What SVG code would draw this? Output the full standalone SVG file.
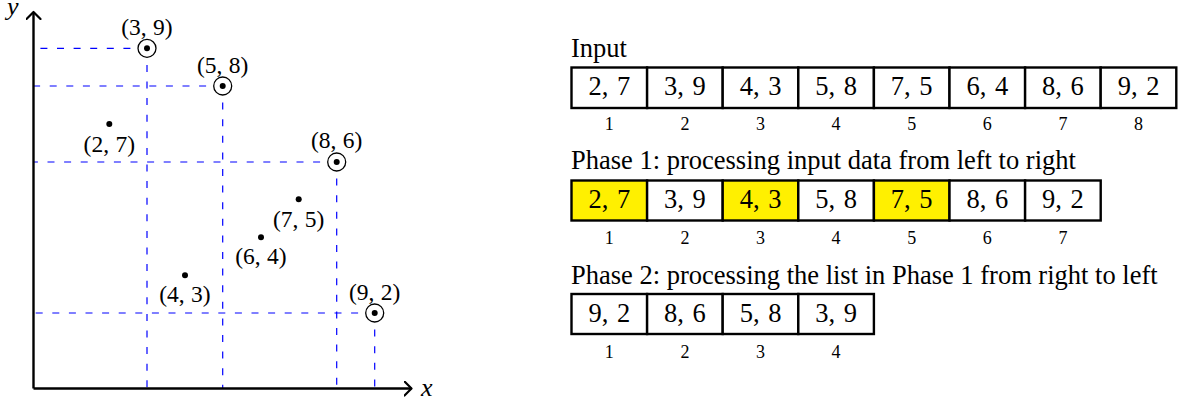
<svg xmlns="http://www.w3.org/2000/svg" width="1184" height="403" viewBox="0 0 1184 403">
  <style>
    .lbl { font-family: "Liberation Serif", "Times New Roman", serif; fill: #000; }
    .pt { font-size: 23.5px; text-anchor: middle; word-spacing: 0.5px; }
    .ax { font-size: 26px; font-style: italic; }
    .title { font-size: 26.5px; }
    .val { font-size: 26.5px; text-anchor: middle; word-spacing: 2px; }
    .idx { font-size: 18px; text-anchor: middle; }
    .cell { fill: #fff; stroke: #000; stroke-width: 2.4; }
    .hl { fill: #fff000; }
    .guide { fill: none; stroke: #0000ff; stroke-width: 1.2; stroke-dasharray: 7 9.6; }
    .axis { fill: none; stroke: #000; stroke-width: 2.4; }
    .ring { fill: #fff; stroke: #000; stroke-width: 1.3; }
    .dot { fill: #000; }
  </style>
  <defs>
    <marker id="arrow" viewBox="-8 -8 10 16" markerWidth="10" markerHeight="16" refX="0" refY="0" orient="auto" markerUnits="userSpaceOnUse">
      <path d="M -7 -7 L 0 0 L -7 7" fill="none" stroke="#000" stroke-width="2.2" stroke-linecap="round" stroke-linejoin="round"/>
    </marker>
  </defs>
  <rect width="1184" height="403" fill="#fff"/>

  <!-- staircase guides: from each maximal point to both axes -->
  <g id="connectors">
    <path class="guide" d="M 147 48.3 H 33.5 M 147 48.3 V 388.5"/>
    <path class="guide" d="M 222.7 86 H 33.5 M 222.7 86 V 388.5"/>
    <path class="guide" d="M 336.7 162 H 33.5 M 336.7 162 V 388.5"/>
    <path class="guide" d="M 374.7 313 H 33.5 M 374.7 313 V 388.5"/>
  </g>

  <!-- axes -->
  <g id="axes">
    <path class="axis" d="M 33.5 388.5 V 12" marker-end="url(#arrow)"/>
    <path class="axis" d="M 33.5 388.5 H 411.5" marker-end="url(#arrow)"/>
    <text class="lbl ax" x="7" y="14.5">y</text>
    <text class="lbl ax" x="421" y="395.5">x</text>
  </g>

  <!-- points; ringed ones are the maxima -->
  <g id="p-3-9">
    <circle class="ring" cx="147" cy="48.3" r="9"/>
    <circle class="dot" cx="147" cy="48.3" r="3"/>
    <text class="lbl pt" x="147" y="34.5">(3, 9)</text>
  </g>
  <g id="p-5-8">
    <circle class="ring" cx="222.7" cy="86" r="9"/>
    <circle class="dot" cx="222.7" cy="86" r="3"/>
    <text class="lbl pt" x="222.7" y="72.5">(5, 8)</text>
  </g>
  <g id="p-2-7">
    <circle class="dot" cx="109.3" cy="124" r="3"/>
    <text class="lbl pt" x="109.3" y="151.5">(2, 7)</text>
  </g>
  <g id="p-8-6">
    <circle class="ring" cx="336.7" cy="162" r="9"/>
    <circle class="dot" cx="336.7" cy="162" r="3"/>
    <text class="lbl pt" x="336.7" y="148">(8, 6)</text>
  </g>
  <g id="p-7-5">
    <circle class="dot" cx="298.7" cy="199.3" r="3"/>
    <text class="lbl pt" x="298.7" y="226.7">(7, 5)</text>
  </g>
  <g id="p-6-4">
    <circle class="dot" cx="261" cy="237.3" r="3"/>
    <text class="lbl pt" x="261" y="264.3">(6, 4)</text>
  </g>
  <g id="p-4-3">
    <circle class="dot" cx="185" cy="275.3" r="3"/>
    <text class="lbl pt" x="185" y="302.3">(4, 3)</text>
  </g>
  <g id="p-9-2">
    <circle class="ring" cx="374.7" cy="313" r="9"/>
    <circle class="dot" cx="374.7" cy="313" r="3"/>
    <text class="lbl pt" x="374.7" y="300">(9, 2)</text>
  </g>

  <!-- input list -->
  <g id="input">
    <text class="lbl title" x="571" y="56.7">Input</text>
    <rect class="cell" x="571.5" y="67.5" width="75.6" height="40.5"/>
    <rect class="cell" x="647.1" y="67.5" width="75.6" height="40.5"/>
    <rect class="cell" x="722.7" y="67.5" width="75.6" height="40.5"/>
    <rect class="cell" x="798.3" y="67.5" width="75.6" height="40.5"/>
    <rect class="cell" x="873.9" y="67.5" width="75.6" height="40.5"/>
    <rect class="cell" x="949.5" y="67.5" width="75.6" height="40.5"/>
    <rect class="cell" x="1025.1" y="67.5" width="75.6" height="40.5"/>
    <rect class="cell" x="1100.7" y="67.5" width="75.6" height="40.5"/>
    <text class="lbl val" x="609.3" y="95.3">2, 7</text>
    <text class="lbl val" x="684.9" y="95.3">3, 9</text>
    <text class="lbl val" x="760.5" y="95.3">4, 3</text>
    <text class="lbl val" x="836.1" y="95.3">5, 8</text>
    <text class="lbl val" x="911.7" y="95.3">7, 5</text>
    <text class="lbl val" x="987.3" y="95.3">6, 4</text>
    <text class="lbl val" x="1062.9" y="95.3">8, 6</text>
    <text class="lbl val" x="1138.5" y="95.3">9, 2</text>
    <text class="lbl idx" x="609.3" y="130">1</text>
    <text class="lbl idx" x="684.9" y="130">2</text>
    <text class="lbl idx" x="760.5" y="130">3</text>
    <text class="lbl idx" x="836.1" y="130">4</text>
    <text class="lbl idx" x="911.7" y="130">5</text>
    <text class="lbl idx" x="987.3" y="130">6</text>
    <text class="lbl idx" x="1062.9" y="130">7</text>
    <text class="lbl idx" x="1138.5" y="130">8</text>
  </g>

  <!-- phase 1 list -->
  <g id="phase1">
    <text class="lbl title" x="571" y="168.5">Phase 1: processing input data from left to right</text>
    <rect class="cell hl" x="571.5" y="180.5" width="75.6" height="40"/>
    <rect class="cell" x="647.1" y="180.5" width="75.6" height="40"/>
    <rect class="cell hl" x="722.7" y="180.5" width="75.6" height="40"/>
    <rect class="cell" x="798.3" y="180.5" width="75.6" height="40"/>
    <rect class="cell hl" x="873.9" y="180.5" width="75.6" height="40"/>
    <rect class="cell" x="949.5" y="180.5" width="75.6" height="40"/>
    <rect class="cell" x="1025.1" y="180.5" width="75.6" height="40"/>
    <text class="lbl val" x="609.3" y="208.3">2, 7</text>
    <text class="lbl val" x="684.9" y="208.3">3, 9</text>
    <text class="lbl val" x="760.5" y="208.3">4, 3</text>
    <text class="lbl val" x="836.1" y="208.3">5, 8</text>
    <text class="lbl val" x="911.7" y="208.3">7, 5</text>
    <text class="lbl val" x="987.3" y="208.3">8, 6</text>
    <text class="lbl val" x="1062.9" y="208.3">9, 2</text>
    <text class="lbl idx" x="609.3" y="243.5">1</text>
    <text class="lbl idx" x="684.9" y="243.5">2</text>
    <text class="lbl idx" x="760.5" y="243.5">3</text>
    <text class="lbl idx" x="836.1" y="243.5">4</text>
    <text class="lbl idx" x="911.7" y="243.5">5</text>
    <text class="lbl idx" x="987.3" y="243.5">6</text>
    <text class="lbl idx" x="1062.9" y="243.5">7</text>
  </g>

  <!-- phase 2 list -->
  <g id="phase2">
    <text class="lbl title" x="571" y="283.5">Phase 2: processing the list in Phase 1 from right to left</text>
    <rect class="cell" x="571.5" y="294" width="75.6" height="40"/>
    <rect class="cell" x="647.1" y="294" width="75.6" height="40"/>
    <rect class="cell" x="722.7" y="294" width="75.6" height="40"/>
    <rect class="cell" x="798.3" y="294" width="75.6" height="40"/>
    <text class="lbl val" x="609.3" y="322.3">9, 2</text>
    <text class="lbl val" x="684.9" y="322.3">8, 6</text>
    <text class="lbl val" x="760.5" y="322.3">5, 8</text>
    <text class="lbl val" x="836.1" y="322.3">3, 9</text>
    <text class="lbl idx" x="609.3" y="358">1</text>
    <text class="lbl idx" x="684.9" y="358">2</text>
    <text class="lbl idx" x="760.5" y="358">3</text>
    <text class="lbl idx" x="836.1" y="358">4</text>
  </g>
</svg>
